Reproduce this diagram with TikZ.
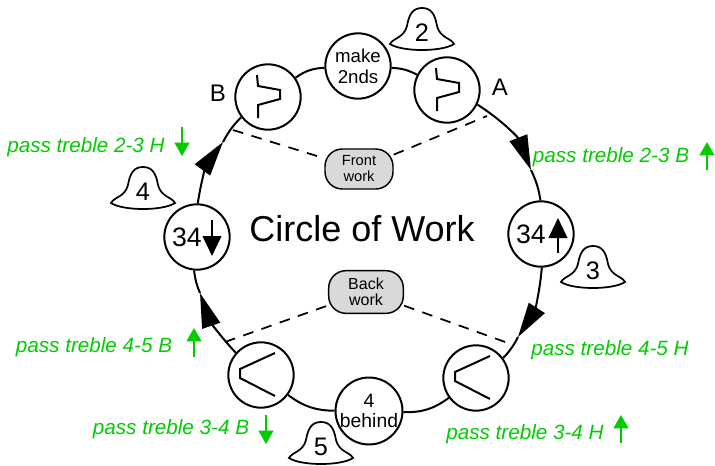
\documentclass[tikz,border=0pt]{standalone}
\usepackage{fontspec}
\setmainfont{Liberation Sans}
\usetikzlibrary{arrows.meta}
\definecolor{passgreen}{HTML}{00CC00}
\definecolor{blobgray}{HTML}{D9D9D9}
\tikzset{
    station/.style={draw, circle, fill=white, line width=1.5pt, minimum size=49pt, inner sep=0pt, align=center},
    blob/.style={draw, fill=blobgray, line width=1.1pt, rounded corners=13pt, inner sep=0pt, align=center},
    ring/.style={line width=1.5pt},
    ringarrow/.style={ring, -{Triangle[length=26pt,width=14pt]}},
    partition/.style={line width=1.3pt, dash pattern=on 8pt off 6.5pt},
    passlabel/.style={font=\fontsize{15.5}{18}\selectfont\itshape, text=passgreen, inner sep=0pt},
    passarrow/.style={passgreen, line width=1.5pt, -{Triangle[length=10pt,width=11pt]}},
    bellnum/.style={font=\fontsize{19}{22}\selectfont, inner sep=0pt},
    endlabel/.style={font=\fontsize{18}{22}\selectfont, inner sep=0pt}
}
\begin{document}
\begin{tikzpicture}[x=0.75pt,y=-0.75pt]
    \useasboundingbox (0,0) rectangle (715,465);

    % Stations round the circle
    \node[station, font=\fontsize{14}{15.5}\selectfont] (make) at (358,66) {make\\2nds};
    \node[station] (placeA) at (447,90) {};
    \node[station] (placeB) at (268,97) {};
    \node[station, font=\fontsize{20}{24}\selectfont] (dodgeup) at (541,234) {34\kern 15pt};
    \node[station, font=\fontsize{20}{24}\selectfont] (dodgedown) at (197,237) {34\kern 15pt};
    \node[station] (huntright) at (476,378) {};
    \node[station] (huntleft) at (261,375) {};
    \node[station, font=\fontsize{14.5}{15}\selectfont] (behind) at (369,411) {4\\behind};

    % Tips of the big arrows on the circle
    \coordinate (tipright) at (531,170);
    \coordinate (tiplowright) at (518,337);
    \coordinate (tiplowleft) at (200,293);
    \coordinate (tipleft) at (223,142);

    % Circle itself
    \draw[ring] (placeB) to[bend left=16] (make);
    \draw[ring] (make) to[bend left=12] (placeA);
    \draw[ringarrow] (placeA) to[bend left=18] (tipright);
    \draw[ring] (tipright) to[bend left=8] (dodgeup);
    \draw[ringarrow] (dodgeup) to[bend left=14] (tiplowright);
    \draw[ring] (tiplowright) to[bend left=8] (huntright);
    \draw[ring] (huntright) to[bend left=19] (behind);
    \draw[ring] (behind) to[bend left=18] (huntleft);
    \draw[ringarrow] (huntleft) to[bend left=12] (tiplowleft);
    \draw[ring] (tiplowleft) to[bend left=8] (dodgedown);
    \draw[ringarrow] (dodgedown) to[bend left=14] (tipleft);
    \draw[ring] (tipleft) to[bend left=8] (placeB);

    % Glyphs inside the stations
    \foreach \stn in {placeA,placeB} {
        \draw[line width=1.5pt, shift={(\stn)}] (-11,-22) -- (-10,-11) -- (12,-7) -- (12,2) -- (-10,8) -- (-10,21);
    }
    \foreach \stn in {huntleft,huntright} {
        \draw[line width=1.5pt, shift={(\stn)}] (14,-22) -- (-21,-6) -- (-21,3) -- (14,21);
    }
    \coordinate (upfoot) at (558,253);
    \coordinate (uphead) at (558,218);
    \coordinate (downfoot) at (212,220);
    \coordinate (downhead) at (212,256);
    \draw[line width=1.5pt, -{Triangle[length=15pt,width=14pt]}] (upfoot) -- (uphead);
    \draw[line width=1.5pt, -{Triangle[length=15pt,width=14pt]}] (downfoot) -- (downhead);

    % Centre title
    \node[font=\fontsize{27}{32}\selectfont, inner sep=0pt] (title) at (362,229) {Circle of Work};

    % Front and back work
    \node[blob, font=\fontsize{11}{12}\selectfont, minimum width=51pt, minimum height=30pt] (front) at (359,169) {Front\\work};
    \node[blob, font=\fontsize{12}{12}\selectfont, minimum width=56pt, minimum height=32pt] (back) at (366,292) {Back\\work};
    \coordinate (frontB) at (233,130);
    \coordinate (frontA) at (487,116);
    \coordinate (backleft) at (225,342);
    \coordinate (backright) at (508,343);
    \draw[partition] (frontB) -- (front);
    \draw[partition] (front) -- (frontA);
    \draw[partition] (backleft) -- (back);
    \draw[partition] (back) -- (backright);

    % Bells
    \foreach \bx/\by/\bn in {422/8/2,593/246/3,143/167/4,321/422/5} {
        \draw[line width=1.3pt, shift={(\bx,\by)}] (-32,36) .. controls (-29,30) and (-18,30) .. (-15,18)
            .. controls (-13,6) and (-9,0) .. (0,0) .. controls (9,0) and (13,6) .. (15,18)
            .. controls (18,30) and (29,30) .. (32,36) .. controls (20,44) and (-20,44) .. (-32,36) -- cycle;
        \node[bellnum] (bell\bn) at (\bx,\by+25) {\bn};
    }

    % Lead end letters
    \node[endlabel] (letterA) at (500,87) {A};
    \node[endlabel] (letterB) at (218,93) {B};

    % Green work labels
    \node[passlabel] (pass23H) at (86,147) {pass treble 2-3 H};
    \node[passlabel] (pass23B) at (611,157) {pass treble 2-3 B};
    \node[passlabel] (pass45H) at (610,350) {pass treble 4-5 H};
    \node[passlabel] (pass45B) at (94,347) {pass treble 4-5 B};
    \node[passlabel] (pass34B) at (171,429) {pass treble 3-4 B};
    \node[passlabel] (pass34H) at (525,434) {pass treble 3-4 H};

    % Green arrows
    \foreach \gname/\gx/\gfrom/\gto in {a/182/127/156,b/707/170/142,c/194/357/328,d/266/415/444,e/621/443/415} {
        \coordinate (g\gname from) at (\gx,\gfrom);
        \coordinate (g\gname to) at (\gx,\gto);
        \draw[passarrow] (g\gname from) -- (g\gname to);
    }
\end{tikzpicture}
\end{document}
